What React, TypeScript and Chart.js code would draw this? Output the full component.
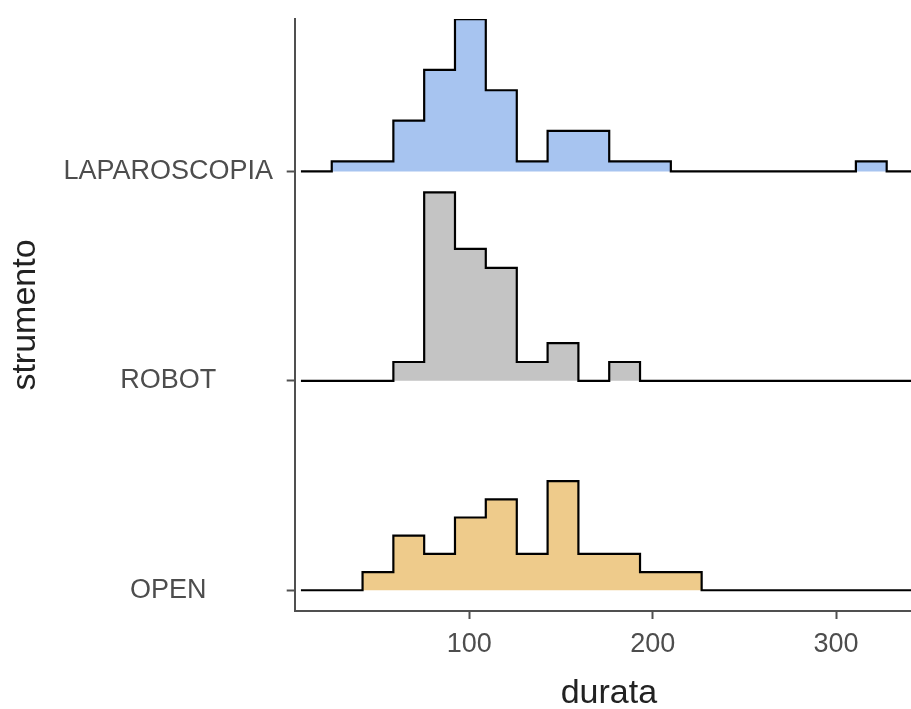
import React, { useEffect, useRef } from "react";
import { Chart, registerables } from "chart.js";

Chart.register(...registerables);

// ---- data ----
const groups = ["OPEN", "ROBOT", "LAPAROSCOPIA"];
const binEdges = [8.2, 25.0, 41.8, 58.6, 75.4, 92.2, 109.0, 125.9, 142.7, 159.5, 176.3, 193.1, 209.9, 226.7, 243.5, 260.3, 277.1, 294.0, 310.8, 327.6, 344.4];
const openCounts = [0, 0, 1, 3, 2, 4, 5, 2, 6, 2, 2, 1, 1, 0, 0, 0, 0, 0, 0, 0];
const robotCounts = [0, 0, 0, 1, 10, 7, 6, 1, 2, 0, 1, 0, 0, 0, 0, 0, 0, 0, 0, 0];
const laparoscopiaCounts = [0, 1, 1, 5, 10, 15, 8, 1, 4, 4, 1, 1, 0, 0, 0, 0, 0, 0, 1, 0];
const fillColors = ["#EECB8B", "#C4C4C4", "#A7C4F0"];
const xTicks = [100, 200, 300];
const xTitle = "durata";
const yTitle = "strumento";
const ridgeScale = 0.9;

const FONT = "'Liberation Sans', Arial, Helvetica, sans-serif";
const AXIS_COLOR = "#505050";

export default function App() {
  const canvasRef = useRef<HTMLCanvasElement | null>(null);

  useEffect(() => {
    const canvas = canvasRef.current;
    if (!canvas) return;
    const countsList = [openCounts, robotCounts, laparoscopiaCounts];
    const densities = countsList.map((c) => {
      const n = c.reduce((a, b) => a + b, 0);
      return c.map((v) => v / n);
    });
    const maxDensity = Math.max(...densities.map((d) => Math.max(...d)));

    const datasets = densities
      .map((d, gi) => {
        const base = gi + 1;
        const data = binEdges.map((x, k) => ({
          x,
          y: base + (d[Math.min(k, d.length - 1)] / maxDensity) * ridgeScale,
        }));
        return {
          label: groups[gi],
          data,
          stepped: true as const,
          borderColor: "#000000",
          borderWidth: 2.2,
          backgroundColor: fillColors[gi],
          fill: { value: base },
          pointRadius: 0,
          pointHoverRadius: 0,
          tension: 0,
          borderJoinStyle: "miter" as const,
        };
      })
      .reverse();

    const chart = new Chart(canvas, {
      type: "line",
      data: { datasets },
      options: {
        animation: false,
        responsive: false,
        maintainAspectRatio: false,
        devicePixelRatio: 1,
        layout: { padding: { top: 19, right: 0, bottom: 0, left: 0 } },
        plugins: {
          legend: { display: false },
          tooltip: { enabled: false },
        },
        scales: {
          x: {
            type: "linear",
            min: 4.8,
            max: 347.4,
            afterBuildTicks: (axis: any) => {
              axis.ticks = xTicks.map((v) => ({ value: v }));
            },
            afterFit: (axis: any) => {
              axis.height = 98;
            },
            ticks: {
              color: "#4d4d4d",
              padding: 9.8,
              font: { family: FONT, size: 27 },
              maxRotation: 0,
              autoSkip: false,
              callback: (v: any) => String(v),
            },
            grid: {
              drawOnChartArea: false,
              drawTicks: true,
              tickLength: 8,
              tickColor: AXIS_COLOR,
              tickWidth: 2,
            },
            border: { display: true, color: AXIS_COLOR, width: 2 },
            title: {
              display: true,
              text: xTitle,
              color: "#222222",
              font: { family: FONT, size: 34 },
              padding: { top: 0, bottom: -4.6 },
            },
          },
          y: {
            type: "linear",
            min: 0.901,
            max: 3.728,
            afterBuildTicks: (axis: any) => {
              axis.ticks = groups.map((_, i) => ({ value: i + 1 }));
            },
            afterFit: (axis: any) => {
              axis.width = 294.7;
            },
            ticks: {
              color: "#4d4d4d",
              padding: 13.7,
              crossAlign: "center",
              font: { family: FONT, size: 27, lineHeight: 0.3 },
              autoSkip: false,
              callback: (v: any) => groups[Math.round(Number(v)) - 1] ?? "",
            },
            grid: {
              drawOnChartArea: false,
              drawTicks: true,
              tickLength: 8,
              tickColor: AXIS_COLOR,
              tickWidth: 2,
            },
            border: { display: true, color: AXIS_COLOR, width: 2 },
            title: {
              display: true,
              text: yTitle,
              color: "#222222",
              font: { family: FONT, size: 34 },
              padding: { top: 5.1, bottom: 0 },
            },
          },
        },
      },
    });
    return () => chart.destroy();
  }, []);

  return (
    <div
      style={{
        position: "absolute",
        left: 0,
        top: 0,
        width: 911,
        height: 709,
        overflow: "hidden",
        background: "#ffffff",
      }}
    >
      <canvas ref={canvasRef} width={923} height={709} style={{ display: "block" }} />
    </div>
  );
}
